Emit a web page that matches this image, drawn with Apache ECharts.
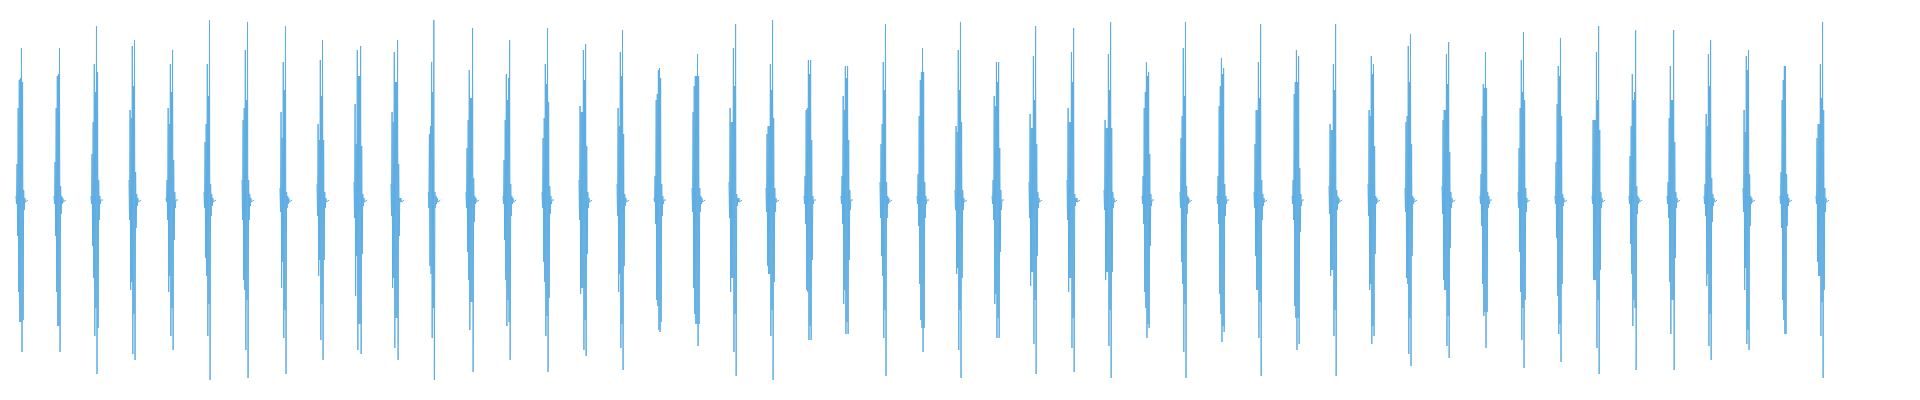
<!DOCTYPE html>
<html>
<head>
<meta charset="utf-8">
<script src="https://cdn.jsdelivr.net/npm/echarts@6/dist/echarts.min.js"></script>
<style>
html,body{margin:0;padding:0;background:#ffffff;}
#chart{width:1920px;height:400px;}
</style>
</head>
<body>
<div id="chart"></div>
<script>
// Onset time of each hit (seconds)
const onsets = [
  0.213, 0.720, 1.213, 1.720, 2.213, 2.720, 3.227, 3.733, 4.227, 4.720,
  5.213, 5.711, 6.213, 6.707, 7.227, 7.720, 8.227, 8.720, 9.227, 9.720,
  10.213, 10.720, 11.213, 11.733, 12.227, 12.733, 13.227, 13.720, 14.227, 14.720,
  15.227, 15.733, 16.227, 16.720, 17.227, 17.720, 18.240, 18.733, 19.227, 19.733,
  20.240, 20.733, 21.227, 21.720, 22.227, 22.720, 23.240, 23.733, 24.213
];

// Sample amplitudes of each hit (alternating peaks, normalised -1..1)
const hits = [
  [0.02,-0.02,0.18,-0.18,0.46,-0.46,0.60,-0.61,0.61,-0.61,0.76,-0.76,0.59,-0.60,0.05,-0.05,0.01,-0.01],
  [0.02,-0.02,0.19,-0.18,0.46,-0.46,0.62,-0.63,0.63,-0.63,0.76,-0.76,0.07,-0.07,0.02,-0.02,0.01,-0.01],
  [0.02,-0.02,0.23,-0.23,0.39,-0.39,0.68,-0.68,0.54,-0.54,0.87,-0.87,0.64,-0.64,0.10,-0.10,0.02,-0.02],
  [0.10,-0.10,0.45,-0.45,0.41,-0.41,0.77,-0.77,0.57,-0.57,0.80,-0.80,0.14,-0.14,0.03,-0.03,0.01,-0.01],
  [0.01,-0.01,0.10,-0.10,0.46,-0.46,0.38,-0.38,0.68,-0.68,0.54,-0.54,0.75,-0.75,0.20,-0.20,0.04,-0.04],
  [0.04,-0.04,0.29,-0.29,0.38,-0.38,0.68,-0.68,0.52,-0.52,0.90,-0.90,0.08,-0.08,0.03,-0.03,0.01,-0.01],
  [0.10,-0.10,0.40,-0.40,0.46,-0.45,0.75,-0.75,0.50,-0.50,0.89,-0.89,0.10,-0.10,0.03,-0.03,0.01,-0.01],
  [0.06,-0.06,0.44,-0.44,0.31,-0.31,0.69,-0.69,0.55,-0.55,0.87,-0.87,0.04,-0.04,0.02,-0.02,0.01,-0.01],
  [0.08,-0.08,0.38,-0.38,0.30,-0.30,0.70,-0.70,0.52,-0.52,0.80,-0.80,0.30,-0.30,0.04,-0.04,0.01,-0.01],
  [0.09,-0.09,0.48,-0.48,0.28,-0.28,0.75,-0.75,0.62,-0.62,0.62,-0.62,0.77,-0.77,0.27,-0.27,0.03,-0.03,0.01,-0.01],
  [0.08,-0.08,0.44,-0.44,0.39,-0.39,0.74,-0.74,0.59,-0.59,0.59,-0.59,0.80,-0.80,0.18,-0.18,0.01,-0.01,0.01,-0.01],
  [0.04,-0.04,0.33,-0.33,0.37,-0.37,0.69,-0.69,0.54,-0.54,0.90,-0.90,0.04,-0.04,0.02,-0.02,0.01,-0.01],
  [0.04,-0.04,0.26,-0.26,0.40,-0.40,0.65,-0.65,0.51,-0.51,0.51,-0.51,0.86,-0.86,0.11,-0.11,0.02,-0.02,0.01,-0.01],
  [0.02,-0.02,0.20,-0.20,0.40,-0.40,0.63,-0.63,0.50,-0.50,0.61,-0.61,0.80,-0.80,0.08,-0.08,0.02,-0.02,0.01,-0.01],
  [0.04,-0.04,0.31,-0.31,0.41,-0.41,0.68,-0.68,0.58,-0.58,0.86,-0.86,0.49,-0.49,0.07,-0.07,0.02,-0.02],
  [0.10,-0.10,0.47,-0.47,0.44,-0.44,0.44,-0.44,0.75,-0.75,0.60,-0.60,0.78,-0.78,0.27,-0.27,0.04,-0.04,0.01,-0.01],
  [0.08,-0.08,0.46,-0.46,0.37,-0.37,0.74,-0.74,0.62,-0.62,0.85,-0.85,0.33,-0.33,0.03,-0.03,0.01,-0.01],
  [0.01,-0.01,0.12,-0.12,0.50,-0.50,0.53,-0.53,0.65,-0.65,0.66,-0.66,0.61,-0.61,0.08,-0.08,0.02,-0.02],
  [0.06,-0.06,0.44,-0.44,0.57,-0.57,0.62,-0.62,0.62,-0.62,0.73,-0.73,0.62,-0.62,0.06,-0.06,0.02,-0.02,0.01,-0.01],
  [0.09,-0.09,0.46,-0.46,0.39,-0.39,0.39,-0.39,0.76,-0.76,0.57,-0.57,0.88,-0.88,0.03,-0.03,0.01,-0.01,0.01,-0.01],
  [0.06,-0.06,0.33,-0.33,0.37,-0.37,0.37,-0.37,0.68,-0.68,0.55,-0.55,0.90,-0.90,0.41,-0.41,0.06,-0.06,0.01,-0.01],
  [0.02,-0.02,0.12,-0.12,0.45,-0.45,0.46,-0.46,0.70,-0.70,0.63,-0.63,0.70,-0.70,0.30,-0.30,0.02,-0.02],
  [0.02,-0.02,0.12,-0.12,0.52,-0.52,0.45,-0.45,0.67,-0.67,0.61,-0.61,0.67,-0.67,0.30,-0.30,0.05,-0.05],
  [0.09,-0.09,0.28,-0.28,0.38,-0.38,0.69,-0.69,0.55,-0.55,0.88,-0.88,0.09,-0.09,0.02,-0.02,0.01,-0.01],
  [0.02,-0.02,0.13,-0.13,0.42,-0.42,0.60,-0.60,0.64,-0.64,0.76,-0.76,0.64,-0.64,0.09,-0.09,0.02,-0.02],
  [0.05,-0.05,0.37,-0.37,0.34,-0.34,0.75,-0.75,0.55,-0.55,0.89,-0.89,0.39,-0.39,0.05,-0.05,0.01,-0.01],
  [0.02,-0.02,0.10,-0.10,0.52,-0.52,0.47,-0.47,0.69,-0.69,0.59,-0.59,0.69,-0.69,0.26,-0.26,0.05,-0.05],
  [0.09,-0.09,0.43,-0.43,0.36,-0.36,0.36,-0.36,0.72,-0.72,0.50,-0.50,0.87,-0.87,0.28,-0.28,0.04,-0.04,0.01,-0.01],
  [0.10,-0.10,0.46,-0.46,0.39,-0.39,0.39,-0.39,0.74,-0.74,0.59,-0.59,0.86,-0.86,0.03,-0.03,0.01,-0.01,0.01,-0.01],
  [0.05,-0.05,0.40,-0.40,0.36,-0.36,0.36,-0.36,0.73,-0.73,0.55,-0.55,0.89,-0.89,0.36,-0.36,0.04,-0.04,0.01,-0.01],
  [0.02,-0.02,0.12,-0.12,0.46,-0.46,0.54,-0.54,0.69,-0.69,0.62,-0.62,0.64,-0.64,0.23,-0.23,0.03,-0.03],
  [0.04,-0.04,0.31,-0.31,0.42,-0.42,0.76,-0.76,0.52,-0.52,0.89,-0.89,0.07,-0.07,0.02,-0.02,0.01,-0.01],
  [0.02,-0.02,0.12,-0.12,0.47,-0.47,0.57,-0.57,0.71,-0.71,0.63,-0.63,0.66,-0.66,0.08,-0.08,0.02,-0.02],
  [0.04,-0.04,0.28,-0.28,0.45,-0.45,0.45,-0.45,0.69,-0.69,0.51,-0.51,0.88,-0.88,0.10,-0.10,0.03,-0.03,0.01,-0.01],
  [0.02,-0.02,0.10,-0.10,0.53,-0.53,0.59,-0.59,0.75,-0.75,0.59,-0.59,0.72,-0.72,0.16,-0.16,0.03,-0.03],
  [0.07,-0.07,0.38,-0.38,0.35,-0.35,0.35,-0.35,0.68,-0.68,0.55,-0.55,0.88,-0.88,0.05,-0.05,0.02,-0.02,0.01,-0.01],
  [0.08,-0.08,0.45,-0.45,0.42,-0.42,0.72,-0.72,0.63,-0.63,0.68,-0.68,0.27,-0.27,0.02,-0.02,0.01,-0.01],
  [0.06,-0.06,0.39,-0.39,0.42,-0.42,0.77,-0.77,0.59,-0.59,0.83,-0.83,0.28,-0.28,0.02,-0.02,0.01,-0.01],
  [0.07,-0.07,0.40,-0.40,0.45,-0.45,0.45,-0.45,0.73,-0.73,0.58,-0.58,0.79,-0.79,0.24,-0.24,0.04,-0.04,0.01,-0.01],
  [0.02,-0.02,0.13,-0.13,0.42,-0.42,0.58,-0.58,0.56,-0.56,0.74,-0.74,0.56,-0.56,0.04,-0.04,0.02,-0.02],
  [0.04,-0.04,0.26,-0.26,0.46,-0.46,0.70,-0.70,0.54,-0.54,0.84,-0.84,0.50,-0.50,0.06,-0.06,0.01,-0.01],
  [0.02,-0.02,0.19,-0.19,0.48,-0.48,0.67,-0.67,0.62,-0.62,0.81,-0.81,0.42,-0.42,0.03,-0.03,0.01,-0.01],
  [0.02,-0.02,0.40,-0.40,0.40,-0.40,0.40,-0.40,0.74,-0.74,0.50,-0.50,0.87,-0.87,0.35,-0.35,0.04,-0.04,0.01,-0.01],
  [0.02,-0.02,0.22,-0.22,0.37,-0.37,0.63,-0.63,0.50,-0.50,0.54,-0.54,0.85,-0.85,0.07,-0.07,0.02,-0.02,0.01,-0.01],
  [0.02,-0.02,0.09,-0.09,0.41,-0.41,0.67,-0.67,0.50,-0.50,0.50,-0.50,0.85,-0.85,0.29,-0.29,0.04,-0.04,0.01,-0.01],
  [0.02,-0.02,0.08,-0.08,0.43,-0.43,0.37,-0.37,0.73,-0.73,0.57,-0.57,0.80,-0.80,0.11,-0.11,0.03,-0.03,0.01,-0.01],
  [0.06,-0.06,0.45,-0.45,0.34,-0.34,0.72,-0.72,0.65,-0.65,0.75,-0.75,0.13,-0.13,0.02,-0.02,0.01,-0.01],
  [0.02,-0.02,0.14,-0.14,0.50,-0.50,0.60,-0.60,0.67,-0.67,0.67,-0.67,0.13,-0.13,0.03,-0.03,0.01,-0.01],
  [0.02,-0.02,0.31,-0.31,0.38,-0.38,0.38,-0.38,0.68,-0.68,0.51,-0.51,0.89,-0.89,0.45,-0.45,0.06,-0.06,0.01,-0.01]
];

const SAMPLE_DT = 0.00733;     // seconds between samples
const SILENCE_SAMPLES = 5;     // trailing silent samples after each hit
const DURATION = 25.6;         // seconds shown

const seriesData = [];
hits.forEach((h, i) => {
  const t0 = onsets[i];
  const vals = h.concat(new Array(SILENCE_SAMPLES).fill(0));
  vals.forEach((v, k) => seriesData.push([t0 + k * SAMPLE_DT, v]));
  seriesData.push([t0 + vals.length * SAMPLE_DT, '-']);
});

const chart = echarts.init(document.getElementById('chart'), null, {renderer: 'canvas'});
chart.setOption({
  animation: false,
  backgroundColor: '#ffffff',
  grid: {left: 0, right: 0, top: 0, bottom: 0},
  xAxis: {type: 'value', min: 0, max: DURATION, show: false},
  yAxis: {type: 'value', min: -1, max: 1, show: false},
  series: [{
    type: 'line',
    data: seriesData,
    showSymbol: false,
    symbol: 'none',
    connectNulls: false,
    lineStyle: {color: '#5DADE2', width: 1},
    itemStyle: {color: '#5DADE2'}
  }]
});
</script>
</body>
</html>
